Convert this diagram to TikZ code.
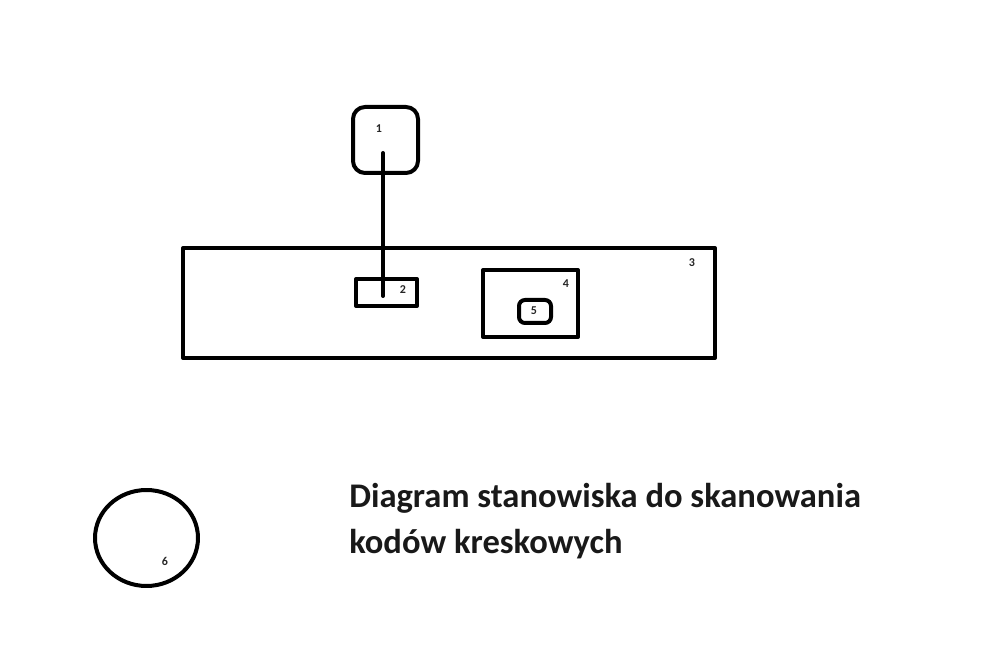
\documentclass[tikz,border=0pt]{standalone}
\usepackage{fontspec}
\setmainfont{Carlito}
\usetikzlibrary{shapes.geometric}

\tikzset{
  part/.style={draw=black,line width=3pt,inner sep=0pt,rectangle},
  tag/.style={text=black!85,font=\bfseries\fontsize{9}{10}\selectfont,inner sep=0pt},
}

\begin{document}
\begin{tikzpicture}[x=0.75pt,y=-0.75pt,line cap=round,line join=round]
\useasboundingbox (0,0) rectangle (996,655);

% scanner (1) and the desk (3)
\node[part,rounded corners=9pt,minimum width=48.75pt,minimum height=49.5pt] (skaner) at (385.5,140) {};
\node[part,minimum width=399pt,minimum height=82.5pt] (blat) at (449,303) {};

% base (2), pad (4) and code (5)
\node[part,minimum width=45.75pt,minimum height=20.25pt] (baza) at (386.5,292.5) {};
\node[part,minimum width=71.25pt,minimum height=50.25pt] (pole) at (530.5,303.5) {};
\node[part,rounded corners=4.5pt,minimum width=24pt,minimum height=17.25pt] (kod) at (535,311.5) {};

% operator (6)
\node[draw=black,line width=3pt,ellipse,inner sep=0pt,minimum width=77.25pt,minimum height=72pt] (osoba) at (146.5,538) {};

% cable from scanner to base
\coordinate (kabelA) at (383,153);
\coordinate (kabelB) at (383,296);
\draw[line width=3pt] (kabelA)--(kabelB);

% numbers
\node[tag] (t1) at (379,129) {1};
\node[tag] (t2) at (403,290) {2};
\node[tag] (t3) at (692,263) {3};
\node[tag] (t4) at (566,284) {4};
\node[tag] (t5) at (534,311) {5};
\node[tag] (t6) at (165,561) {6};

% title (base anchor sits on the last line)
\node[anchor=base west,align=left,inner sep=0pt,text=black!90,
      font=\bfseries\fontsize{25.9}{34.5}\selectfont] (tytul) at (349,553)
  {Diagram stanowiska do skanowania\\kodów kreskowych};

\end{tikzpicture}
\end{document}
